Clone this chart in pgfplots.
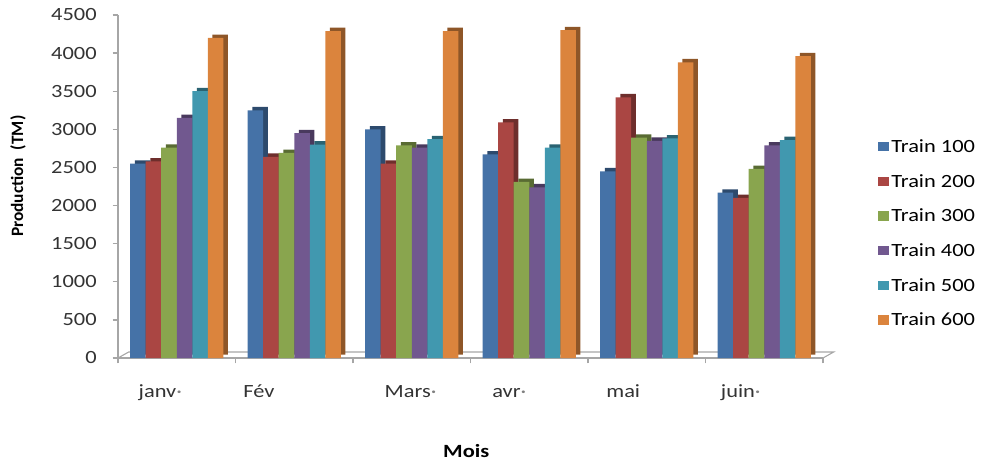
\documentclass[border=0pt]{standalone}
\usepackage{fontspec}
\setmainfont{Carlito}[FakeStretch=1.2]
\newfontfamily\ylabfont{Carlito}
\usepackage{pgfplots}
\usepackage{pgfplotstable}
\usetikzlibrary{calc}
\pgfplotsset{compat=1.18}
\definecolor{c1}{HTML}{4572A7}
\definecolor{c2}{HTML}{AA4643}
\definecolor{c3}{HTML}{89A54E}
\definecolor{c4}{HTML}{71588F}
\definecolor{c5}{HTML}{4198AF}
\definecolor{c6}{HTML}{DB843D}
\definecolor{axgray}{HTML}{A6A6A6}
\pgfplotstableread{
x t100 t200 t300 t400 t500 t600
0 2550 2580 2760 3150 3500 4200
1 3250 2640 2690 2950 2800 4290
2 3000 2550 2790 2760 2870 4290
3 2670 3090 2310 2240 2760 4300
4 2450 3420 2890 2850 2880 3880
5 2170 2100 2480 2790 2860 3960
}\data
\begin{document}
\begin{tikzpicture}[x=1pt,y=1pt]
\useasboundingbox (0,0) rectangle (741,348);
\begin{axis}[
  at={(88.5pt,79.5pt)}, anchor=south west,
  scale only axis, width=528.75pt, height=257.25pt,
  xmin=-0.5, xmax=5.5, ymin=0, ymax=4500,
  clip=false,
  axis x line*=bottom, axis y line*=left,
  axis line style={axgray, line width=1pt},
  tick style={axgray, line width=1pt},
  tick align=outside, major tick length=4pt,
  ytick={0,500,...,4500},
  xtick={-0.5,0.5,...,5.5},
  xticklabels={},
  extra x ticks={-0.14,0.70,1.99,2.83,3.80,4.80},
  extra x tick labels={janv{\color{gray}·},Fév,Mars{\color{gray}·},avr{\color{gray}·},mai,juin{\color{gray}·}},
  extra x tick style={major tick length=0pt, tick style={draw=none},
     tick label style={yshift=-16pt, text height=10pt, text depth=3pt}},
  /pgf/number format/assume math mode=true,
  /pgf/number format/1000 sep={},
  tick label style={font=\fontsize{14}{16}\selectfont, text=black!80},
  yticklabel style={xshift=-8.5pt},
  bar width=0.132,
  xlabel={\bfseries Mois},
  xlabel style={at={(axis description cs:0.494,-0.27)}, anchor=center, font=\fontsize{14}{16}\selectfont},
  ylabel={\ylabfont\bfseries Production\ \ (TM)},
  ylabel style={at={(axis description cs:-0.142,0.53)}, anchor=center, font=\fontsize{13}{15}\selectfont},
  legend style={at={(axis description cs:1.072,0.65)}, anchor=north west, draw=none, fill=none,
     font=\fontsize{14}{16}\selectfont, row sep=13pt, nodes={text height=9pt, text depth=0pt}},
  legend cell align=left,
  legend image code/.code={\fill[#1] (0pt,-3.5pt) rectangle (8pt,3.5pt);},
]
% floor
\draw[axgray, line width=0.8pt] (axis cs:-0.5,0) -- ++(8pt,4.5pt) -- ($(axis cs:5.5,0)+(8pt,4.5pt)$) -- (axis cs:5.5,0);
% side/top faces (3D depth)
\addplot[ybar, bar shift=-0.330, fill=c1!65!black, draw=none, xshift=3.5pt, yshift=2.5pt, forget plot] table[x=x,y=t100]{\data};
\addplot[ybar, bar shift=-0.198, fill=c2!65!black, draw=none, xshift=3.5pt, yshift=2.5pt, forget plot] table[x=x,y=t200]{\data};
\addplot[ybar, bar shift=-0.066, fill=c3!65!black, draw=none, xshift=3.5pt, yshift=2.5pt, forget plot] table[x=x,y=t300]{\data};
\addplot[ybar, bar shift=0.066, fill=c4!65!black, draw=none, xshift=3.5pt, yshift=2.5pt, forget plot] table[x=x,y=t400]{\data};
\addplot[ybar, bar shift=0.198, fill=c5!65!black, draw=none, xshift=3.5pt, yshift=2.5pt, forget plot] table[x=x,y=t500]{\data};
\addplot[ybar, bar shift=0.330, fill=c6!65!black, draw=none, xshift=3.5pt, yshift=2.5pt, forget plot] table[x=x,y=t600]{\data};
% front faces
\addplot[ybar, bar shift=-0.330, fill=c1, draw=none] table[x=x,y=t100]{\data};
\addplot[ybar, bar shift=-0.198, fill=c2, draw=none] table[x=x,y=t200]{\data};
\addplot[ybar, bar shift=-0.066, fill=c3, draw=none] table[x=x,y=t300]{\data};
\addplot[ybar, bar shift=0.066, fill=c4, draw=none] table[x=x,y=t400]{\data};
\addplot[ybar, bar shift=0.198, fill=c5, draw=none] table[x=x,y=t500]{\data};
\addplot[ybar, bar shift=0.330, fill=c6, draw=none] table[x=x,y=t600]{\data};
\legend{Train 100,Train 200,Train 300,Train 400,Train 500,Train 600}
\end{axis}
\end{tikzpicture}
\end{document}
